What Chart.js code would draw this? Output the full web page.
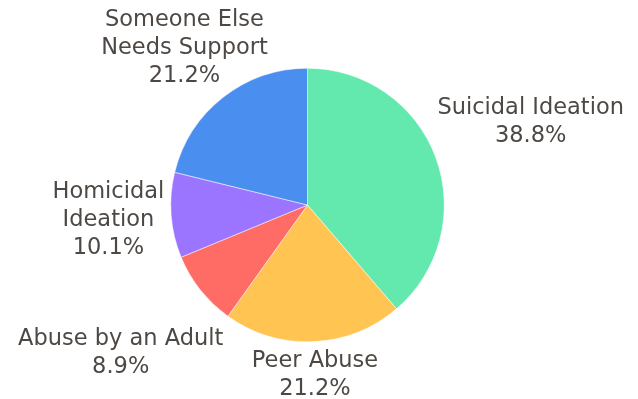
<!DOCTYPE html>
<html>
<head>
<meta charset="utf-8">
<script src="https://cdn.jsdelivr.net/npm/chart.js@4"></script>
<style>
  html, body { margin: 0; padding: 0; background: #ffffff; }
  #wrap { width: 638px; height: 399px; }
</style>
</head>
<body>
<div id="wrap"><canvas id="chart" width="638" height="399"></canvas></div>
<script>
// categories (already split into display lines)
const categories = [
  ['Suicidal Ideation'],
  ['Peer Abuse'],
  ['Abuse by an Adult'],
  ['Homicidal', 'Ideation'],
  ['Someone Else', 'Needs Support']
];
const shares = [38.8, 21.2, 8.9, 10.1, 21.2];
const sliceColors = ['#63e8ad', '#ffc452', '#ff6b65', '#9b74ff', '#4a8ff0'];

const LABEL_FONT = '400 22.5px "DejaVu Sans", sans-serif';
const LINE_HEIGHT = 28;
const LABEL_GAP = 4;

// draws the outside labels, pushed out along each slice's middle ray
const outsideLabels = {
  id: 'outsideLabels',
  afterDatasetsDraw(chart) {
    const ctx = chart.ctx;
    const meta = chart.getDatasetMeta(0);
    ctx.save();
    ctx.font = LABEL_FONT;
    ctx.fillStyle = '#4d4844';
    ctx.textAlign = 'center';
    ctx.textBaseline = 'middle';

    meta.data.forEach((arc, i) => {
      const lines = categories[i].concat([shares[i].toFixed(1) + '%']);
      const w = Math.max(...lines.map(l => ctx.measureText(l).width));
      const h = lines.length * LINE_HEIGHT;
      const mid = (arc.startAngle + arc.endAngle) / 2;
      const ux = Math.cos(mid), uy = Math.sin(mid);
      const extent = Math.abs(ux) * w / 2 + Math.abs(uy) * h / 2;
      let dist = arc.outerRadius + LABEL_GAP + extent;

      // pull back along the ray if the box would leave the canvas
      const limits = [];
      if (uy < 0) limits.push((arc.y - 6 - h / 2) / -uy);
      if (uy > 0) limits.push((chart.height + 4 - h / 2 - arc.y) / uy);
      if (ux < 0) limits.push((arc.x - 6 - w / 2) / -ux);
      if (ux > 0) limits.push((chart.width - 6 - w / 2 - arc.x) / ux);
      dist = Math.min(dist, ...limits);

      const cx = arc.x + ux * dist;
      const cy = arc.y + uy * dist;
      lines.forEach((line, k) => {
        ctx.fillText(line, cx, cy - h / 2 + LINE_HEIGHT * (k + 0.5));
      });
    });
    ctx.restore();
  }
};

new Chart(document.getElementById('chart'), {
  type: 'pie',
  data: {
    labels: categories.map(c => c.join(' ')),
    datasets: [{
      data: shares,
      backgroundColor: sliceColors,
      borderColor: '#ffffff',
      borderWidth: 0.5
    }]
  },
  options: {
    responsive: false,
    animation: false,
    layout: { padding: { top: 68, bottom: 57, left: 170, right: 193 } },
    plugins: {
      legend: { display: false },
      tooltip: { enabled: false }
    }
  },
  plugins: [outsideLabels]
});
</script>
</body>
</html>
